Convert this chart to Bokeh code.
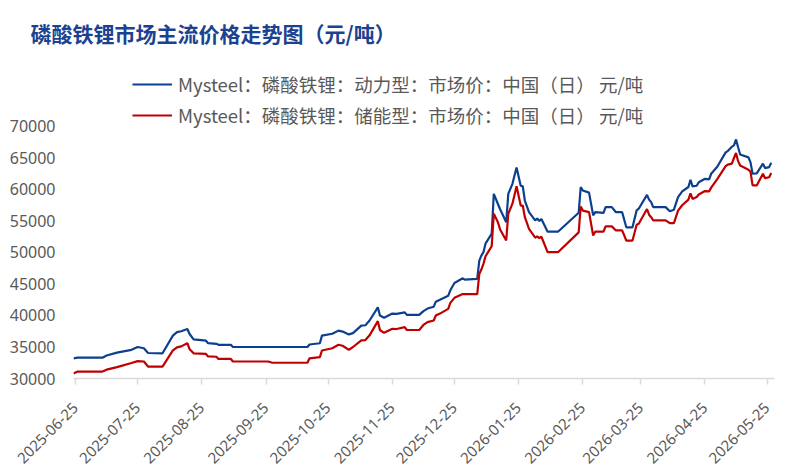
import math
import pandas as pd
from bokeh.plotting import figure
from bokeh.models import (Range1d, FixedTicker, DatetimeTickFormatter, NumeralTickFormatter,
                          Legend, LegendItem, ColumnDataSource)
from bokeh.embed import file_html
from bokeh.resources import INLINE

title_text = "磷酸铁锂市场主流价格走势图（元/吨）"
legend_labels = ["Mysteel：磷酸铁锂：动力型：市场价：中国（日） 元/吨",
                 "Mysteel：磷酸铁锂：储能型：市场价：中国（日） 元/吨"]

dates = [
    "2025-06-24", "2025-06-26", "2025-07-08", "2025-07-10", "2025-07-15", "2025-07-22", "2025-07-25", "2025-07-28", "2025-07-30", "2025-08-06",
    "2025-08-11", "2025-08-13", "2025-08-15", "2025-08-18", "2025-08-19", "2025-08-21", "2025-08-27", "2025-08-28", "2025-09-01", "2025-09-02",
    "2025-09-08", "2025-09-09", "2025-09-26", "2025-09-28", "2025-10-15", "2025-10-16", "2025-10-21", "2025-10-22", "2025-10-27", "2025-10-30",
    "2025-11-01", "2025-11-04", "2025-11-06", "2025-11-10", "2025-11-12", "2025-11-14", "2025-11-18", "2025-11-19", "2025-11-21", "2025-11-25",
    "2025-11-27", "2025-12-01", "2025-12-02", "2025-12-08", "2025-12-10", "2025-12-12", "2025-12-15", "2025-12-16", "2025-12-18", "2025-12-22",
    "2025-12-23", "2025-12-25", "2025-12-29", "2025-12-30", "2026-01-05", "2026-01-06", "2026-01-07", "2026-01-08", "2026-01-09", "2026-01-12",
    "2026-01-13", "2026-01-15", "2026-01-16", "2026-01-19", "2026-01-20", "2026-01-22", "2026-01-24", "2026-01-26", "2026-01-27", "2026-01-28",
    "2026-01-30", "2026-02-02", "2026-02-03", "2026-02-04", "2026-02-05", "2026-02-08", "2026-02-13", "2026-02-23", "2026-02-24", "2026-02-25",
    "2026-02-28", "2026-03-02", "2026-03-03", "2026-03-07", "2026-03-08", "2026-03-11", "2026-03-13", "2026-03-16", "2026-03-18", "2026-03-21",
    "2026-03-23", "2026-03-24", "2026-03-28", "2026-03-29", "2026-03-30", "2026-03-31", "2026-04-06", "2026-04-08", "2026-04-10", "2026-04-12",
    "2026-04-14", "2026-04-17", "2026-04-18", "2026-04-19", "2026-04-21", "2026-04-22", "2026-04-25", "2026-04-27", "2026-04-28", "2026-05-01",
    "2026-05-05", "2026-05-06", "2026-05-08", "2026-05-09", "2026-05-10", "2026-05-11", "2026-05-12", "2026-05-16", "2026-05-17", "2026-05-18",
    "2026-05-20", "2026-05-23", "2026-05-24", "2026-05-26", "2026-05-27",
]

power_type = [
    33200, 33300, 33300, 33650, 34100, 34550, 35000, 34800, 34050, 34000,
    36800, 37350, 37500, 37850, 37100, 36200, 36000, 35600, 35500, 35350,
    35350, 35000, 35000, 35000, 35000, 35400, 35600, 36800, 37100, 37600,
    37450, 37000, 37200, 38400, 38450, 39200, 41300, 40000, 39650, 40300,
    40250, 40500, 40100, 40100, 40700, 41100, 41400, 42200, 42500, 43150,
    44000, 45150, 45900, 45700, 45800, 48700, 49500, 50050, 51400, 53000,
    59300, 57700, 56900, 54800, 59300, 60900, 63500, 60600, 60500, 58250,
    56400, 55100, 55400, 55000, 55300, 53300, 53300, 56300, 60400, 59850,
    59500, 55900, 56400, 56300, 57200, 57200, 56400, 56400, 54000, 54000,
    56700, 56950, 59150, 58400, 58000, 57200, 57200, 56550, 56800, 58800,
    59700, 60400, 61550, 60500, 60600, 61150, 61700, 61600, 62500, 63650,
    65900, 66100, 66800, 67000, 67950, 66700, 65550, 65100, 64300, 62500,
    62550, 64100, 63400, 63550, 64250,
]

storage_type = [
    30800, 31100, 31100, 31400, 31800, 32450, 32750, 32700, 31900, 31900,
    34450, 34950, 35100, 35600, 34700, 34000, 33900, 33500, 33450, 33100,
    33100, 32700, 32700, 32500, 32500, 33200, 33400, 34450, 34800, 35350,
    35200, 34550, 35000, 36050, 36100, 36850, 39100, 37700, 37250, 37900,
    37850, 38150, 37700, 37700, 38500, 38950, 39200, 40000, 40300, 41050,
    42000, 42800, 43400, 43400, 43400, 46600, 47300, 48200, 49400, 51000,
    56150, 54800, 53700, 51900, 56150, 57750, 60500, 57450, 57450, 55600,
    53750, 52350, 52550, 52300, 52500, 50050, 50050, 53200, 57300, 56650,
    56400, 52700, 53300, 53300, 54150, 54150, 53500, 53500, 51900, 51900,
    54400, 54550, 56900, 56000, 55600, 55100, 55100, 54650, 54650, 56650,
    57500, 58400, 59400, 58500, 58800, 59200, 59750, 59700, 60300, 61700,
    63700, 63950, 64100, 65000, 65800, 64500, 63800, 63150, 62800, 60650,
    60650, 62500, 61800, 61950, 62600,
]

x_tick_labels = ["2025-06-25", "2025-07-25", "2025-08-25", "2025-09-25", "2025-10-25", "2025-11-25",
                 "2025-12-25", "2026-01-25", "2026-02-25", "2026-03-25", "2026-04-25", "2026-05-25"]
y_ticks = [30000, 35000, 40000, 45000, 50000, 55000, 60000, 65000, 70000]

BLUE = "#0D3F8F"
RED = "#C00000"
GRAY_TXT = "#595959"
AXIS_GRAY = "#D9D9D9"

src = ColumnDataSource(dict(x=pd.to_datetime(dates), power=power_type, storage=storage_type))

x_start = pd.Timestamp("2025-06-24")
x_end = pd.Timestamp("2026-05-28 14:00")

p = figure(width=781, height=476, x_axis_type="datetime", output_backend="svg",
           toolbar_location=None, x_range=Range1d(x_start, x_end),
           y_range=Range1d(30000, 81111),
           min_border_left=73, min_border_right=7, min_border_top=56, min_border_bottom=98)
p.title.text = title_text
p.title.align = "left"
p.title.offset = -43
p.title.standoff = 17
p.title.text_font = "Noto Sans CJK SC"
p.title.text_font_size = "21px"
p.title.text_font_style = "bold"
p.title.text_color = "#1B4290"
p.outline_line_color = None
p.xgrid.grid_line_color = None
p.ygrid.grid_line_color = None
p.background_fill_color = "white"
p.border_fill_color = "white"

tick_ms = [pd.Timestamp(s).value // 10**6 for s in x_tick_labels]
xa = p.xaxis[0]
xa.ticker = FixedTicker(ticks=tick_ms)
xa.formatter = DatetimeTickFormatter(days="%Y-%m-%d", months="%Y-%m-%d", years="%Y-%m-%d")
xa.major_label_overrides = {t: lab for t, lab in zip(tick_ms, x_tick_labels)}
xa.major_label_orientation = math.pi / 4
xa.axis_line_color = AXIS_GRAY
xa.axis_line_width = 1.5
xa.major_tick_line_color = AXIS_GRAY
xa.major_tick_line_width = 1.5
xa.major_tick_out = 6
xa.major_tick_in = 0
xa.minor_tick_line_color = None
xa.major_label_text_font = "Noto Sans"
xa.major_label_text_font_size = "15px"
xa.major_label_text_color = GRAY_TXT
xa.major_label_standoff = 21

ya = p.yaxis[0]
ya.ticker = FixedTicker(ticks=y_ticks)
ya.formatter = NumeralTickFormatter(format="0")
ya.axis_line_color = None
ya.major_tick_line_color = None
ya.minor_tick_line_color = None
ya.major_tick_out = 0
ya.major_label_standoff = 18
ya.major_label_text_font = "Noto Sans"
ya.major_label_text_font_size = "16px"
ya.major_label_text_color = GRAY_TXT

r1 = p.line("x", "power", source=src, line_color=BLUE, line_width=2.2)
r2 = p.line("x", "storage", source=src, line_color=RED, line_width=2.2)

legend = Legend(items=[LegendItem(label=legend_labels[0], renderers=[r1]),
                       LegendItem(label=legend_labels[1], renderers=[r2])],
                location=(59, 250), orientation="vertical",
                border_line_color=None, background_fill_alpha=0,
                padding=0, margin=0, spacing=5,
                glyph_width=40, glyph_height=20, label_height=20, label_standoff=6,
                label_text_font="Noto Sans CJK SC", label_text_font_size="18.5px",
                label_text_color=GRAY_TXT)
p.add_layout(legend)

open("out.html", "w").write(file_html(p, INLINE))
